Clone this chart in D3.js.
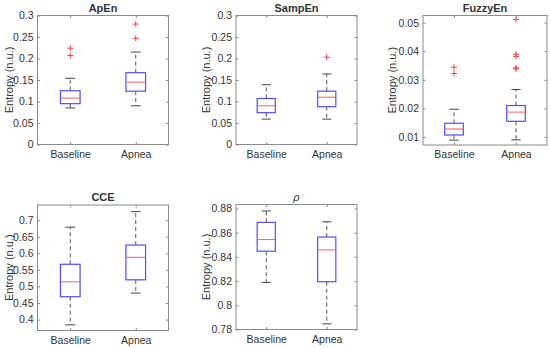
<!DOCTYPE html>
<meta charset="utf-8">
<script src="https://d3js.org/d3.v7.min.js"></script>
<style>
  body { margin: 0; background: #fff; }
  text { font-family: "Liberation Sans", Arial, sans-serif; fill: #333; }
</style>
<div id="chart"></div>
<script>

// categories
var groups = ["Baseline", "Apnea"];

// box stats per group: [lower whisker, q1, median, q3, upper whisker]
var apenStats = [[0.085, 0.095, 0.108, 0.125, 0.154], [0.090, 0.124, 0.145, 0.167, 0.215]];
var apenOutliers = [[0.207, 0.224], [0.247, 0.280]];
var apenTicks = [0, 0.05, 0.1, 0.15, 0.2, 0.25, 0.3];

var sampenStats = [[0.059, 0.074, 0.090, 0.107, 0.139], [0.059, 0.088, 0.110, 0.124, 0.164]];
var sampenOutliers = [[], [0.203]];
var sampenTicks = [0, 0.05, 0.1, 0.15, 0.2, 0.25, 0.3];

var fuzzyStats = [[0.0089, 0.0107, 0.0128, 0.0148, 0.0197], [0.0090, 0.0155, 0.0187, 0.0210, 0.0266]];
var fuzzyOutliers = [[0.0322, 0.0344], [0.0338, 0.0342, 0.0382, 0.0390, 0.0511]];
var fuzzyTicks = [0.01, 0.02, 0.03, 0.04, 0.05];

var cceStats = [[0.384, 0.469, 0.514, 0.567, 0.679], [0.480, 0.520, 0.588, 0.625, 0.726]];
var cceOutliers = [[], []];
var cceTicks = [0.4, 0.45, 0.5, 0.55, 0.6, 0.65, 0.7];

var rhoStats = [[0.8189, 0.8447, 0.8543, 0.8685, 0.8780], [0.7847, 0.8195, 0.8458, 0.8564, 0.8690]];
var rhoOutliers = [[], []];
var rhoTicks = [0.78, 0.8, 0.82, 0.84, 0.86, 0.88];

// panel layout (pixels) and y ranges
var panels = [
  {title: "ApEn", stats: apenStats, out: apenOutliers, ticks: apenTicks, domain: [0, 0.3],
   x: 37.5, y: 15.5, w: 131, h: 129, labelX: 10},
  {title: "SampEn", stats: sampenStats, out: sampenOutliers, ticks: sampenTicks, domain: [0, 0.3],
   x: 236, y: 15.5, w: 121, h: 129, labelX: 207},
  {title: "FuzzyEn", stats: fuzzyStats, out: fuzzyOutliers, ticks: fuzzyTicks, domain: [0.0072, 0.0525],
   x: 423, y: 15.5, w: 124, h: 129.5, labelX: 393},
  {title: "CCE", stats: cceStats, out: cceOutliers, ticks: cceTicks, domain: [0.367, 0.746],
   x: 37.5, y: 205, w: 131, h: 125.5, labelX: 10},
  {title: "\u03C1", italic: true, stats: rhoStats, out: rhoOutliers, ticks: rhoTicks, domain: [0.78, 0.8833],
   x: 236, y: 204.5, w: 121, h: 125, labelX: 207}
];

var svg = d3.select("#chart").append("svg")
  .attr("width", 550)
  .attr("height", 349);

var axisColor = "#8a8a8a";

panels.forEach(function(p) {
  var g = svg.append("g").attr("transform", "translate(" + p.x + "," + p.y + ")");

  var x = d3.scaleLinear().domain([0.5, 2.5]).range([0, p.w]);
  var y = d3.scaleLinear().domain(p.domain).range([p.h, 0]);
  var unit = x(2) - x(1);

  // left axis with labels
  var yAxis = d3.axisLeft(y).tickValues(p.ticks).tickSize(-2.5).tickPadding(4)
    .tickFormat(function(d) { return d3.format("~g")(+d.toFixed(4)); });
  var ya = g.append("g").call(yAxis);
  var xAxis = d3.axisBottom(x).tickValues([1, 2]).tickSize(-2.5).tickPadding(6)
    .tickFormat(function(d) { return groups[d - 1]; });
  var xa = g.append("g").attr("transform", "translate(0," + p.h + ")").call(xAxis);
  // top and right ticks (box on)
  var xt = g.append("g").call(d3.axisTop(x).tickValues([1, 2]).tickSize(-2.5).tickFormat(""));
  var yr = g.append("g").attr("transform", "translate(" + p.w + ",0)")
    .call(d3.axisRight(y).tickValues(p.ticks).tickSize(-2.5).tickFormat(""));

  [ya, xa, xt, yr].forEach(function(a) {
    a.selectAll(".domain").remove();
    a.selectAll("line").attr("stroke", axisColor);
    a.selectAll("text").attr("font-size", 10.5).attr("fill", "#333")
      .attr("font-family", "Liberation Sans, Arial, sans-serif");
  });

  g.append("rect")
    .attr("width", p.w).attr("height", p.h)
    .attr("fill", "none").attr("stroke", axisColor).attr("stroke-width", 1);

  // boxes
  p.stats.forEach(function(s, i) {
    var cx = x(i + 1);
    var bw = 0.3 * unit, cw = 0.15 * unit;
    // whiskers
    g.append("line").attr("x1", cx).attr("x2", cx).attr("y1", y(s[3])).attr("y2", y(s[4]))
      .attr("stroke", "#555").attr("stroke-dasharray", "4,3");
    g.append("line").attr("x1", cx).attr("x2", cx).attr("y1", y(s[1])).attr("y2", y(s[0]))
      .attr("stroke", "#555").attr("stroke-dasharray", "4,3");
    [s[0], s[4]].forEach(function(v) {
      g.append("line").attr("x1", cx - cw / 2).attr("x2", cx + cw / 2).attr("y1", y(v)).attr("y2", y(v))
        .attr("stroke", "#444");
    });
    g.append("rect")
      .attr("x", cx - bw / 2).attr("width", bw)
      .attr("y", y(s[3])).attr("height", y(s[1]) - y(s[3]))
      .attr("fill", "none").attr("stroke", "#4d4dff").attr("stroke-width", 1.2);
    g.append("line").attr("x1", cx - bw / 2).attr("x2", cx + bw / 2).attr("y1", y(s[2])).attr("y2", y(s[2]))
      .attr("stroke", "#ff5a5a").attr("stroke-width", 1);
    // outliers
    p.out[i].forEach(function(v) {
      var oy = y(v);
      g.append("path")
        .attr("d", "M" + (cx - 3) + "," + oy + "H" + (cx + 3) + "M" + cx + "," + (oy - 3) + "V" + (oy + 3))
        .attr("stroke", "#ff3b3b").attr("stroke-width", 1);
    });
  });

  // title
  g.append("text")
    .attr("x", p.w / 2).attr("y", -4)
    .attr("text-anchor", "middle")
    .attr("font-size", 11)
    .attr("font-weight", p.italic ? "normal" : "bold")
    .attr("font-style", p.italic ? "italic" : "normal")
    .attr("fill", "#111")
    .text(p.title);

  // y label
  svg.append("text")
    .attr("transform", "translate(" + p.labelX + "," + (p.y + p.h / 2) + ") rotate(-90)")
    .attr("text-anchor", "middle")
    .attr("dominant-baseline", "middle")
    .attr("font-size", 11)
    .attr("fill", "#333")
    .text("Entropy (n.u.)");
});

</script>
